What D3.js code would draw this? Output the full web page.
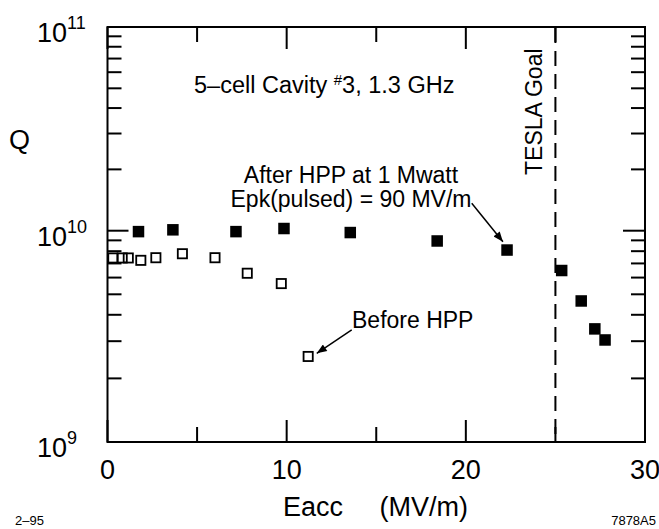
<!DOCTYPE html>
<html>
<head>
<meta charset="utf-8">
<script src="https://cdn.jsdelivr.net/npm/d3@7"></script>
<style>
  html, body { margin: 0; padding: 0; background: #fff; }
  svg { display: block; }
  text { font-family: "Liberation Sans", Arial, Helvetica, sans-serif; fill: #000; }
</style>
</head>
<body>
<svg id="chart" width="659" height="529"></svg>
<script>
// Q versus accelerating gradient, 5-cell cavity #3
const afterE = [1.73, 3.65, 7.17, 9.85, 13.55, 18.4, 22.3, 25.35, 26.44, 27.2, 27.77];
const afterQ = [0.99e10, 1.01e10, 0.99e10, 1.025e10, 0.98e10, 0.894e10, 0.81e10, 0.648e10, 0.465e10, 0.343e10, 0.304e10];

const beforeE = [0.3, 0.82, 1.16, 1.86, 2.7, 4.18, 6.0, 7.8, 9.7, 11.2];
const beforeQ = [0.743e10, 0.743e10, 0.743e10, 0.724e10, 0.745e10, 0.778e10, 0.745e10, 0.629e10, 0.562e10, 0.254e10];

const teslaGoal = 25;

const xMajor = [0, 10, 20, 30];
const xMinor = [5, 15, 25];
const yMajor = [1e9, 1e10, 1e11];
const yMajorExp = ["9", "10", "11"];
const yMinor = [2, 3, 4, 5, 6, 7, 8, 9].flatMap(m => [m * 1e9, m * 1e10]);

// annotation arrows: [fromE, fromQ, toE, toQ]
const afterArrow = [20.33, 1.363e10, 22.07, 0.887e10];
const beforeArrow = [13.63, 0.339e10, 11.68, 0.263e10];

const svg = d3.select("#chart");
const L = 107.5, R = 645, T = 27, B = 442;

const x = d3.scaleLinear().domain([0, 30]).range([L, R]);
const y = d3.scaleLog().domain([1e9, 1e10, 1e11]).range([B, 230.7, T]);

// ticks (all four sides)
const tickG = svg.append("g").attr("stroke", "#000").attr("stroke-width", 2);
xMajor.forEach(v => {
  tickG.append("line").attr("x1", x(v)).attr("x2", x(v)).attr("y1", B).attr("y2", B - 22);
  tickG.append("line").attr("x1", x(v)).attr("x2", x(v)).attr("y1", T).attr("y2", T + 22);
});
xMinor.forEach(v => {
  tickG.append("line").attr("x1", x(v)).attr("x2", x(v)).attr("y1", B).attr("y2", B - 15);
  tickG.append("line").attr("x1", x(v)).attr("x2", x(v)).attr("y1", T).attr("y2", T + 15);
});
yMajor.forEach(v => {
  tickG.append("line").attr("x1", L).attr("x2", L + 21).attr("y1", y(v)).attr("y2", y(v));
  tickG.append("line").attr("x1", R).attr("x2", R - 22).attr("y1", y(v)).attr("y2", y(v));
});
yMinor.forEach(v => {
  tickG.append("line").attr("x1", L).attr("x2", L + 14).attr("y1", y(v)).attr("y2", y(v));
  tickG.append("line").attr("x1", R).attr("x2", R - 14).attr("y1", y(v)).attr("y2", y(v));
});

// frame
svg.append("rect")
  .attr("x", L).attr("y", T).attr("width", R - L).attr("height", B - T)
  .attr("fill", "none").attr("stroke", "#000").attr("stroke-width", 2);

// TESLA goal line
svg.append("line")
  .attr("x1", x(teslaGoal)).attr("x2", x(teslaGoal))
  .attr("y1", T + 1).attr("y2", B)
  .attr("stroke", "#000").attr("stroke-width", 2)
  .attr("stroke-dasharray", "15,8");

svg.append("text")
  .attr("transform", `translate(${x(teslaGoal) - 13},175) rotate(-90)`)
  .attr("font-size", 23)
  .text("TESLA Goal");

// x tick labels
svg.append("g").selectAll("text").data(xMajor).join("text")
  .attr("x", d => x(d)).attr("y", 479)
  .attr("text-anchor", "middle").attr("font-size", 27)
  .text(d => d);

// y tick labels: 10 with superscript exponent
const yl = svg.append("g").selectAll("text").data(yMajor).join("text")
  .attr("x", 37)
  .attr("y", d => Math.max(36, y(d) + 15))
  .attr("font-size", 27);
yl.append("tspan").text("10");
yl.append("tspan").attr("font-size", 18).attr("dy", -13).text((d, i) => yMajorExp[i]);

// axis titles
svg.append("text").attr("x", 9).attr("y", 149).attr("font-size", 27).text("Q");
svg.append("text").attr("x", 283).attr("y", 516).attr("font-size", 27).text("Eacc");
svg.append("text").attr("x", 468).attr("y", 516).attr("font-size", 27)
  .attr("text-anchor", "end").text("(MV/m)");

// corner notes
svg.append("text").attr("x", 15).attr("y", 525).attr("font-size", 13).text("2–95");
svg.append("text").attr("x", 656).attr("y", 525).attr("font-size", 13)
  .attr("text-anchor", "end").text("7878A5");

// title inside plot
const title = svg.append("text").attr("x", 194).attr("y", 93).attr("font-size", 23.5);
title.append("tspan").text("5–cell Cavity ");
title.append("tspan").attr("font-size", 15).attr("dy", -8).text("#");
title.append("tspan").attr("dy", 8).text("3, 1.3 GHz");

// annotation texts
svg.append("text").attr("x", 351).attr("y", 183).attr("font-size", 23)
  .attr("text-anchor", "middle").text("After HPP at 1 Mwatt");
svg.append("text").attr("x", 351).attr("y", 207).attr("font-size", 23)
  .attr("text-anchor", "middle").text("Epk(pulsed) = 90 MV/m");
svg.append("text").attr("x", 352).attr("y", 328).attr("font-size", 23)
  .text("Before HPP");

// arrows
svg.append("defs").append("marker")
  .attr("id", "head").attr("viewBox", "0 0 10 8")
  .attr("refX", 10).attr("refY", 4)
  .attr("markerWidth", 11).attr("markerHeight", 8)
  .attr("markerUnits", "userSpaceOnUse").attr("orient", "auto")
  .append("path").attr("d", "M0,0 L10,4 L0,8 Z").attr("fill", "#000");

[afterArrow, beforeArrow].forEach(a => {
  svg.append("line")
    .attr("x1", x(a[0])).attr("y1", y(a[1]))
    .attr("x2", x(a[2])).attr("y2", y(a[3]))
    .attr("stroke", "#000").attr("stroke-width", 1.5)
    .attr("marker-end", "url(#head)");
});

// data: before HPP (open squares)
const s = 11;
svg.append("g").selectAll("rect").data(beforeE).join("rect")
  .attr("x", (d, i) => x(d) - s / 2 + 0.9)
  .attr("y", (d, i) => y(beforeQ[i]) - s / 2 + 0.9)
  .attr("width", s - 1.8).attr("height", s - 1.8)
  .attr("fill", "none").attr("stroke", "#000").attr("stroke-width", 1.8);

// data: after HPP (filled squares)
const f = 11.5;
svg.append("g").selectAll("rect").data(afterE).join("rect")
  .attr("x", d => x(d) - f / 2)
  .attr("y", (d, i) => y(afterQ[i]) - f / 2)
  .attr("width", f).attr("height", f)
  .attr("fill", "#000");
</script>
</body>
</html>
